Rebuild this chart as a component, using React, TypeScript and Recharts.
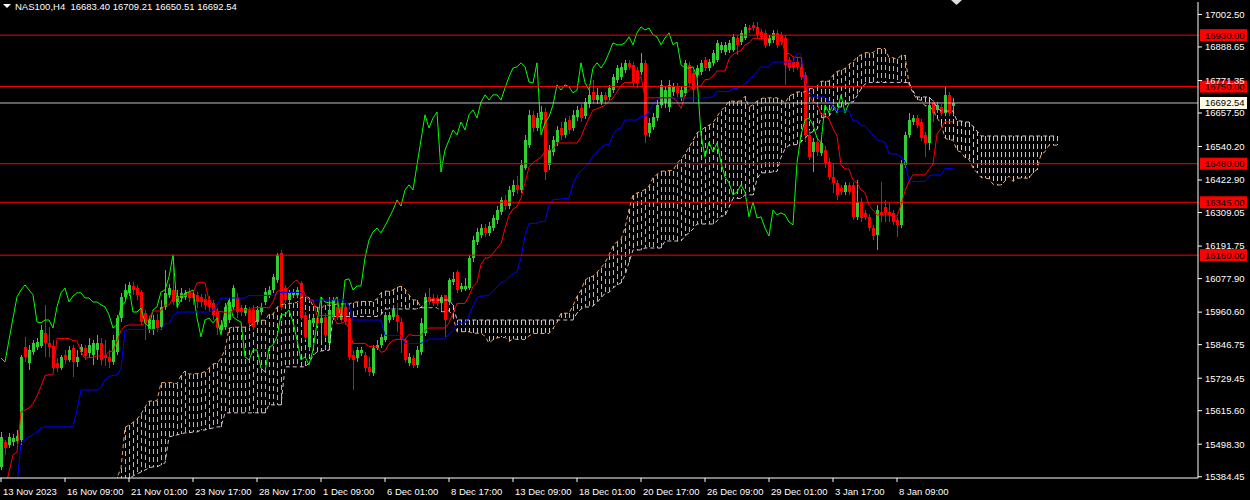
import { ComposedChart, Bar, Line, XAxis, YAxis, ReferenceLine } from "recharts";

// NAS100 H4 candles (bar 0 = 13 Nov 2023)
const OPEN = [
  15419, 15506, 15496, 15506, 15510, 15513, 15839, 15783, 15821, 15839,
  15842, 15888, 15853, 15842, 15783, 15765, 15811, 15793, 15835, 15786,
  15821, 15835, 15818, 15811, 15828, 15853, 15811, 15804, 15786, 15821,
  15940, 16014, 16028, 16052, 16045, 16031, 15958, 15898, 15898, 15933,
  15909, 15979, 16021, 16038, 15996, 16010, 16014, 16031, 16024, 16021,
  16014, 16007, 16003, 15993, 15961, 15898, 15909, 15933, 15979, 16014,
  15975, 15958, 15968, 15968, 15926, 15961, 15996, 16021, 16038, 16073,
  16168, 16045, 16003, 16021, 16021, 16063, 15951, 15839, 15923, 15940,
  15923, 15944, 15853, 15944, 15979, 15979, 15979, 15940, 15811, 15800,
  15818, 15811, 15769, 15748, 15835, 15846, 15863, 15933, 15944, 15951,
  15926, 15863, 15783, 15800, 15776, 15821, 15888, 16014, 16010, 16010,
  15993, 16021, 15996, 16066, 16101, 16042, 16042, 16045, 16150, 16206,
  16231, 16255, 16238, 16255, 16283, 16311, 16353, 16332, 16381, 16406,
  16388, 16465, 16546, 16651, 16605, 16633, 16661, 16476, 16521, 16556,
  16605, 16581, 16633, 16605, 16644, 16675, 16647, 16689, 16731, 16703,
  16696, 16721, 16714, 16738, 16773, 16784, 16808, 16833, 16826, 16808,
  16801, 16833, 16588, 16609, 16640, 16686, 16693, 16679, 16731, 16749,
  16710, 16728, 16826, 16798, 16791, 16801, 16843, 16815, 16833, 16843,
  16878, 16871, 16878, 16878, 16920, 16906, 16920, 16955, 16966, 16959,
  16941, 16938, 16903, 16913, 16938, 16931, 16920, 16843, 16836, 16836,
  16819, 16791, 16581, 16521, 16556, 16518, 16528, 16486, 16434, 16413,
  16395, 16381, 16406, 16406, 16294, 16346, 16308, 16294, 16255, 16231,
  16311, 16329, 16311, 16308, 16283, 16266, 16476, 16581, 16626, 16640,
  16626, 16581, 16553, 16696, 16668, 16679, 16658, 16721, 16683.4,
];
const HIGH = [
  15541, 15513, 15538, 15534, 15548, 15811, 15874, 15846, 15863, 15870,
  15916, 15986, 15909, 15863, 15800, 15811, 15828, 15842, 15846, 15828,
  15849, 15846, 15870, 15863, 15881, 15870, 15863, 15828, 15881, 15951,
  16028, 16059, 16066, 16066, 16056, 16038, 15968, 15947, 15951, 15954,
  16003, 16108, 16059, 16157, 16038, 16045, 16038, 16045, 16038, 16031,
  16024, 16024, 16017, 16003, 15975, 15933, 15993, 16010, 16056, 16028,
  15986, 15986, 15979, 15986, 15982, 15993, 16045, 16052, 16094, 16168,
  16178, 16056, 16038, 16042, 16049, 16070, 15961, 15940, 15951, 15951,
  16014, 15958, 16014, 16014, 15993, 15993, 15993, 15951, 15828, 15839,
  15839, 15821, 15804, 15846, 15863, 15884, 15961, 15961, 15986, 15993,
  15940, 15870, 15818, 15811, 15842, 15940, 16028, 16045, 16024, 16021,
  16021, 16021, 16080, 16101, 16108, 16063, 16080, 16161, 16227, 16255,
  16269, 16269, 16276, 16301, 16332, 16364, 16371, 16402, 16423, 16437,
  16493, 16581, 16668, 16665, 16658, 16682, 16675, 16546, 16577, 16612,
  16626, 16640, 16647, 16668, 16682, 16689, 16710, 16738, 16773, 16745,
  16731, 16731, 16756, 16794, 16826, 16833, 16843, 16843, 16836, 16819,
  16868, 16843, 16640, 16658, 16703, 16773, 16752, 16773, 16763, 16763,
  16749, 16843, 16836, 16808, 16826, 16843, 16854, 16847, 16878, 16913,
  16906, 16906, 16913, 16934, 16931, 16948, 16969, 16966, 16976, 16976,
  16952, 16948, 16931, 16948, 16948, 16941, 16931, 16854, 16850, 16850,
  16829, 16801, 16598, 16570, 16570, 16563, 16542, 16500, 16483, 16423,
  16406, 16416, 16416, 16416, 16423, 16360, 16318, 16304, 16266, 16336,
  16416, 16353, 16343, 16318, 16294, 16493, 16591, 16658, 16651, 16651,
  16637, 16591, 16696, 16703, 16696, 16689, 16749, 16731, 16709.21,
];
const LOW = [
  15408, 15461, 15485, 15492, 15499, 15496, 15786, 15758, 15811, 15828,
  15835, 15804, 15804, 15758, 15751, 15758, 15779, 15786, 15734, 15769,
  15811, 15793, 15800, 15776, 15793, 15776, 15772, 15765, 15776, 15811,
  15926, 16003, 16017, 16021, 16003, 15916, 15863, 15888, 15881, 15891,
  15898, 15968, 16010, 15986, 15975, 15996, 16003, 15996, 15986, 15975,
  15979, 15968, 15961, 15933, 15881, 15891, 15898, 15923, 15968, 15940,
  15947, 15947, 15905, 15898, 15916, 15951, 15986, 16010, 16028, 16063,
  15968, 15993, 15986, 16010, 16010, 15933, 15863, 15828, 15916, 15912,
  15863, 15870, 15842, 15933, 15933, 15926, 15916, 15793, 15688, 15786,
  15807, 15751, 15737, 15737, 15828, 15835, 15856, 15923, 15933, 15891,
  15818, 15783, 15772, 15765, 15765, 15811, 15877, 15986, 15982, 15982,
  15961, 15874, 15986, 16056, 16028, 16031, 16035, 16038, 16136, 16196,
  16220, 16224, 16227, 16245, 16269, 16301, 16318, 16322, 16367, 16374,
  16378, 16458, 16535, 16591, 16595, 16619, 16423, 16458, 16507, 16542,
  16563, 16570, 16584, 16595, 16630, 16626, 16637, 16675, 16689, 16689,
  16686, 16689, 16703, 16728, 16763, 16773, 16798, 16808, 16752, 16745,
  16791, 16553, 16574, 16598, 16630, 16675, 16675, 16661, 16717, 16714,
  16700, 16717, 16752, 16696, 16780, 16791, 16805, 16805, 16822, 16836,
  16868, 16861, 16868, 16871, 16861, 16896, 16913, 16938, 16945, 16920,
  16913, 16885, 16892, 16903, 16885, 16896, 16756, 16805, 16801, 16808,
  16773, 16556, 16493, 16451, 16507, 16507, 16465, 16423, 16378, 16353,
  16371, 16371, 16371, 16283, 16283, 16276, 16283, 16245, 16213, 16178,
  16276, 16276, 16276, 16266, 16224, 16255, 16465, 16570, 16616, 16605,
  16560, 16504, 16528, 16626, 16658, 16647, 16647, 16647, 16650.51,
];
const CLOSE = [
  15524, 15485, 15524, 15520, 15527, 15804, 15804, 15828, 15853, 15856,
  15898, 15853, 15839, 15765, 15765, 15804, 15793, 15828, 15786, 15804,
  15839, 15807, 15846, 15853, 15853, 15793, 15800, 15786, 15863, 15940,
  16014, 16038, 16056, 16038, 16021, 15926, 15923, 15933, 15933, 15905,
  15979, 16028, 16045, 15996, 16017, 16028, 16028, 16010, 16010, 15996,
  15996, 15986, 15979, 15951, 15905, 15916, 15979, 15996, 16045, 15961,
  15961, 15975, 15923, 15909, 15968, 15979, 16031, 16038, 16084, 16161,
  15979, 16003, 16028, 16031, 16038, 15940, 15874, 15933, 15940, 15923,
  15940, 15881, 15968, 16003, 15944, 15933, 15926, 15804, 15793, 15828,
  15828, 15765, 15751, 15835, 15846, 15874, 15951, 15951, 15968, 15926,
  15863, 15793, 15804, 15776, 15828, 15923, 16014, 15996, 15993, 15993,
  16014, 15933, 16073, 16077, 16038, 16052, 16052, 16150, 16213, 16241,
  16255, 16238, 16262, 16290, 16318, 16353, 16332, 16388, 16406, 16388,
  16476, 16563, 16651, 16605, 16640, 16661, 16451, 16528, 16563, 16598,
  16581, 16626, 16598, 16651, 16668, 16640, 16696, 16721, 16703, 16721,
  16721, 16703, 16745, 16784, 16815, 16819, 16833, 16819, 16766, 16763,
  16833, 16581, 16623, 16644, 16686, 16756, 16738, 16756, 16749, 16728,
  16738, 16833, 16763, 16738, 16815, 16833, 16815, 16836, 16868, 16903,
  16896, 16896, 16903, 16924, 16896, 16938, 16959, 16948, 16955, 16931,
  16924, 16896, 16920, 16938, 16896, 16906, 16826, 16815, 16815, 16819,
  16784, 16581, 16504, 16556, 16521, 16553, 16483, 16434, 16413, 16371,
  16381, 16406, 16381, 16294, 16346, 16290, 16294, 16255, 16227, 16318,
  16301, 16308, 16301, 16276, 16266, 16483, 16581, 16633, 16640, 16616,
  16570, 16553, 16686, 16658, 16686, 16658, 16721, 16658, 16692.54,
];

// indicator values at the left edge, where the history behind the window is not on screen
const TENKAN_HEAD = [15303, 15338, 15401, 15461, 15471, 15611, 15618, 15625];
const KIJUN_HEAD = [
  15303, 15303, 15303, 15303, 15356, 15503, 15513, 15524, 15531, 15541,
  15555, 15559, 15559, 15559, 15559, 15559, 15559, 15559, 15559, 15618,
  15688, 15688, 15688, 15688, 15688,
];
const SPAN_B_HEAD = [
  15356, 15356, 15359, 15363, 15366, 15373, 15380, 15387, 15394, 15401,
  15408, 15415, 15419, 15419, 15426, 15433, 15524, 15527, 15531, 15534,
  15538, 15538, 15541, 15541, 15548, 15548, 15552, 15555, 15559, 15559,
  15608, 15608, 15608, 15608, 15608, 15608, 15608, 15608, 15608, 15608,
  15608, 15636, 15636, 15636, 15636, 15769, 15769, 15769, 15769, 15769,
  15769,
];

const PRICE_TICKS = [
  17002.5, 16888.65, 16771.35, 16657.5, 16540.2, 16422.9, 16309.05, 16191.75,
  16077.9, 15960.6, 15846.75, 15729.45, 15615.6, 15498.3, 15384.45,
];
const TIME_LABELS = [
  "13 Nov 2023", "16 Nov 09:00", "21 Nov 01:00", "23 Nov 17:00", "28 Nov 17:00",
  "1 Dec 09:00", "6 Dec 01:00", "8 Dec 17:00", "13 Dec 09:00", "18 Dec 01:00",
  "20 Dec 17:00", "26 Dec 09:00", "29 Dec 01:00", "3 Jan 17:00", "8 Jan 09:00",
];
const LABEL_EVERY = 16;
const LEVELS = [16930, 16750, 16480, 16345, 16160];
const LAST = 16692.54;
const SHIFT = 26;

const BULL = "#32cd32";
const BEAR = "#ff0000";
const CLOUD_UP = "#f4a460";
const CLOUD_DN = "#d8bfd8";
const FONT = "'Liberation Sans', Arial, sans-serif";
const X_DOMAIN = [-0.25, 299.25];

function midRange(end: number, len: number) {
  let hi = -Infinity;
  let lo = Infinity;
  for (let k = end - len + 1; k <= end; k++) {
    hi = Math.max(hi, HIGH[k]);
    lo = Math.min(lo, LOW[k]);
  }
  return (hi + lo) / 2;
}

const N = CLOSE.length;
const tenkan = CLOSE.map((_, i) => (i < 8 ? TENKAN_HEAD[i] : midRange(i, 9)));
const kijun = CLOSE.map((_, i) => (i < 25 ? KIJUN_HEAD[i] : midRange(i, 26)));
const spanA = tenkan.map((t, i) => (t + kijun[i]) / 2);
const spanB = CLOSE.map((_, i) => (i < 51 ? SPAN_B_HEAD[i] : midRange(i, 52)));

const rows = Array.from({ length: N + SHIFT }, (_, x) => {
  const row: any = { x };
  if (x < N) {
    row.range = [LOW[x], HIGH[x]];
    row.open = OPEN[x];
    row.close = CLOSE[x];
    row.tenkan = tenkan[x];
    row.kijun = kijun[x];
  }
  if (x + SHIFT < N) row.chikou = CLOSE[x + SHIFT];
  if (x >= SHIFT) {
    const a = spanA[x - SHIFT];
    const b = spanB[x - SHIFT];
    row.spanA = a;
    row.spanB = b;
    if (a >= b) row.cloudUp = [b, a];
    else row.cloudDn = [a, b];
  }
  return row;
});

function Candle(props: any) {
  const { x, y, width, height } = props;
  const d = props.payload && props.payload.range ? props.payload : props;
  if (!d.range) return null;
  const [lo, hi] = d.range;
  const top = Math.min(y, y + height);
  const bot = Math.max(y, y + height);
  const k = hi === lo ? 0 : (bot - top) / (hi - lo);
  const yO = top + (hi - d.open) * k;
  const yC = top + (hi - d.close) * k;
  const color = d.close >= d.open ? BULL : BEAR;
  const c = Math.round(x + width / 2);
  const bTop = Math.round(Math.min(yO, yC));
  const bH = Math.max(1, Math.round(Math.abs(yO - yC)));
  return (
    <g shapeRendering="crispEdges">
      <line x1={c + 0.5} x2={c + 0.5} y1={top} y2={bot} stroke={color} />
      <rect x={c - 1} y={bTop} width={3} height={bH} fill={color} />
    </g>
  );
}

// one dotted vertical stroke per bar between the two senkou spans
function hatch(color: string) {
  return (props: any) => {
    const { x, y, width, height } = props;
    if (!isFinite(y) || !isFinite(height)) return <g />;
    const c = Math.round(x + width / 2);
    return (
      <line
        x1={c + 0.5}
        x2={c + 0.5}
        y1={Math.min(y, y + height)}
        y2={Math.max(y, y + height)}
        stroke={color}
        strokeWidth={1}
        strokeDasharray="5 3"
        shapeRendering="crispEdges"
      />
    );
  };
}

function TimeTick(props: any) {
  const { x, payload } = props;
  return (
    <text x={x + 2} y={495} fill="#fff" fontSize={9.5} fontFamily={FONT} textAnchor="start">
      {TIME_LABELS[payload.value / LABEL_EVERY]}
    </text>
  );
}

function priceTag(bg: string, text: string) {
  return (props: any) => {
    const vb = props.viewBox || {};
    const x = vb.x + vb.width;
    const y = vb.y;
    return (
      <g>
        <rect x={x + 2} y={y - 6} width={47} height={12} fill={bg} />
        <text x={x + 7} y={y + 3.5} fill="#000" fontSize={9.5} fontFamily={FONT}>
          {text}
        </text>
      </g>
    );
  };
}

export default function App() {
  const tickBars = TIME_LABELS.map((_, k) => k * LABEL_EVERY);
  return (
    <div
      style={{
        position: "fixed",
        left: 0,
        top: 0,
        width: 1250,
        height: 500,
        background: "#000",
        overflow: "hidden",
        fontFamily: FONT,
      }}
    >
      <ComposedChart
        width={1250}
        height={500}
        data={rows}
        margin={{ top: 2, right: 0, bottom: 0, left: 0 }}
      >
        <XAxis
          dataKey="x"
          type="number"
          domain={X_DOMAIN}
          allowDataOverflow
          ticks={tickBars}
          interval={0}
          height={22}
          stroke="#fff"
          tickSize={4}
          tick={(p: any) => <TimeTick {...p} />}
        />
        <XAxis xAxisId="up" dataKey="x" type="number" domain={X_DOMAIN} allowDataOverflow hide />
        <XAxis xAxisId="dn" dataKey="x" type="number" domain={X_DOMAIN} allowDataOverflow hide />
        <YAxis
          orientation="right"
          type="number"
          domain={[15380, 17046]}
          allowDataOverflow
          ticks={PRICE_TICKS}
          interval={0}
          width={52}
          stroke="#fff"
          tickSize={4}
          tickMargin={3}
          tick={{ fill: "#fff", fontSize: 9.5, fontFamily: FONT }}
          tickFormatter={(v: number) => v.toFixed(2)}
        />
        <Bar xAxisId="up" dataKey="cloudUp" barSize={3} fill={CLOUD_UP} shape={hatch(CLOUD_UP)} isAnimationActive={false} />
        <Bar xAxisId="dn" dataKey="cloudDn" barSize={3} fill={CLOUD_DN} shape={hatch(CLOUD_DN)} isAnimationActive={false} />
        <Line dataKey="spanA" stroke={CLOUD_UP} strokeDasharray="4 3" dot={false} activeDot={false} isAnimationActive={false} />
        <Line dataKey="spanB" stroke={CLOUD_DN} strokeDasharray="4 3" dot={false} activeDot={false} isAnimationActive={false} />
        <Bar
          dataKey="range"
          barSize={3}
          shape={(p: any) => <Candle {...p} />}
          isAnimationActive={false}
        />
        <Line dataKey="chikou" stroke="#00ff00" strokeWidth={1} dot={false} activeDot={false} isAnimationActive={false} />
        <Line dataKey="kijun" stroke="#0000ff" strokeWidth={1} dot={false} activeDot={false} isAnimationActive={false} />
        <Line dataKey="tenkan" stroke="#ff0000" strokeWidth={1} dot={false} activeDot={false} isAnimationActive={false} />
        {LEVELS.map((v) => (
          <ReferenceLine
            key={v}
            y={v}
            stroke="#ff0000"
            strokeWidth={1}
            label={priceTag("#ff0000", v.toFixed(2))}
          />
        ))}
        <ReferenceLine y={LAST} stroke="#c0c0c0" strokeWidth={1} label={priceTag("#fffbe6", LAST.toFixed(2))} />
      </ComposedChart>
      <svg width={12} height={8} style={{ position: "absolute", left: 3, top: 4 }}>
        <polygon points="0,0 8,0 4,4" fill="#fff" />
      </svg>
      <div
        style={{
          position: "absolute",
          left: 15,
          top: 1,
          color: "#fff",
          fontSize: 9.5,
          whiteSpace: "pre",
          lineHeight: "12px",
        }}
      >
        {"NAS100,H4  16683.40 16709.21 16650.51 16692.54"}
      </div>
      <svg width={12} height={8} style={{ position: "absolute", left: 951, top: 0 }}>
        <polygon points="0,0 11,0 5.5,5" fill="#e0e0e0" />
      </svg>
    </div>
  );
}
